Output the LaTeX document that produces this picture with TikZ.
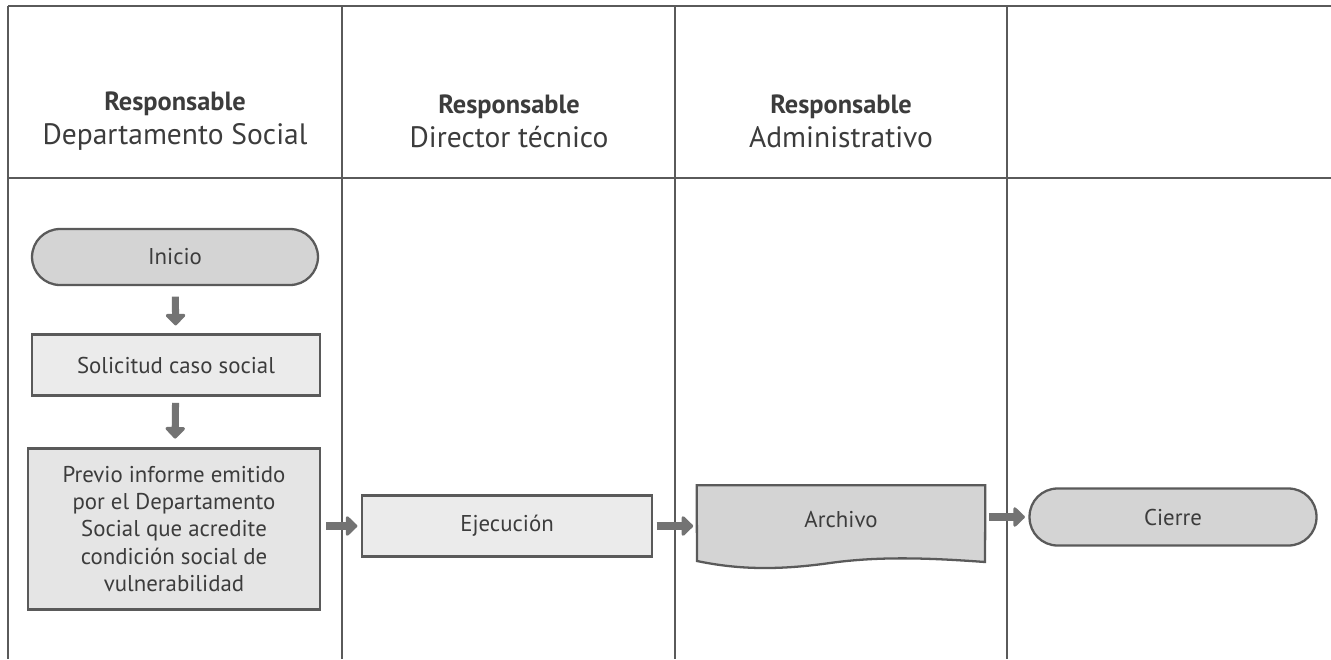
\documentclass[tikz,border=0pt]{standalone}
\usepackage{fontspec}
\setmainfont{PT Sans}
\usetikzlibrary{arrows.meta}
\definecolor{linea}{HTML}{5A5A5A}
\definecolor{texto}{HTML}{3C3C3C}
\definecolor{grisA}{HTML}{D4D4D4}
\definecolor{grisB}{HTML}{EBEBEB}
\definecolor{grisC}{HTML}{E5E5E5}
\begin{document}
\begin{tikzpicture}[x=0.02cm,y=-0.02cm,
  caja/.style={draw=linea,line width=1.3pt,fill=#1,text=texto,align=center,
    font=\fontsize{13}{15.6}\selectfont,inner sep=0pt},
  fin/.style={caja=grisA,rounded corners=0.56cm},
  flecha/.style={draw=linea!85,line width=4pt,-{Triangle[width=13pt,length=7pt,round]}},
  cabecera/.style={text=texto,align=center,font=\fontsize{16.8}{19.5}\selectfont}]
\useasboundingbox (0,0) rectangle (1331,659);
% carriles
\draw[linea,line width=1.1pt] (8,6) -- (1331,6) (8,178) -- (1331,178);
\foreach \x in {8,342,675,1007} \draw[linea,line width=1.1pt] (\x,6) -- (\x,659);
\node[cabecera] (c1) at (175,121) {{\fontsize{15}{19.5}\selectfont\bfseries Responsable}\\Departamento Social};
\node[cabecera] (c2) at (509,121) {{\fontsize{15}{19.5}\selectfont\bfseries Responsable}\\Director técnico};
\node[cabecera] (c3) at (841,121) {{\fontsize{15}{19.5}\selectfont\bfseries Responsable}\\Administrativo};
% pasos
\node[fin,minimum width=5.72cm,minimum height=1.12cm] (inicio) at (175,257) {Inicio};
\node[caja=grisB,minimum width=5.76cm,minimum height=1.22cm] (solicitud) at (176,365) {Solicitud caso social};
\node[caja=grisC,minimum width=5.84cm,minimum height=3.22cm] (previo) at (174,529)
  {Previo informe emitido\\por el Departamento\\Social que acredite\\condición social de\\vulnerabilidad};
\node[caja=grisB,minimum width=5.8cm,minimum height=1.22cm] (ejecucion) at (507,526) {Ejecución};
\node[minimum width=5.76cm,minimum height=1.5cm,inner sep=0pt] (archivo) at (841,523) {};
\fill[grisA] (archivo.north west) -- (archivo.north east) -- (985,562)
  .. controls (930,558) and (880,556) .. (830,563) .. controls (780,570) and (740,570) .. (697,561) -- cycle;
\draw[linea,line width=1.3pt] (archivo.north west) -- (archivo.north east) -- (985,562)
  .. controls (930,558) and (880,556) .. (830,563) .. controls (780,570) and (740,570) .. (697,561) -- cycle;
\node[text=texto,font=\fontsize{13}{15.6}\selectfont] (archivot) at (841,520) {Archivo};
\node[fin,minimum width=5.74cm,minimum height=1.14cm] (cierre) at (1173,517) {Cierre};
% flechas
\draw[flecha,shorten <=6pt,shorten >=4.5pt] (inicio) -- (solicitud);
\draw[flecha,shorten <=3.5pt,shorten >=5pt] (solicitud) -- (previo);
\draw[flecha,shorten <=3pt,shorten >=2pt] (previo.east |- ejecucion) -- (ejecucion);
\draw[flecha,shorten <=2pt,shorten >=2pt] (ejecucion.east) -- (archivo.west |- ejecucion);
\draw[flecha,shorten <=2pt,shorten >=2pt] (archivo.east |- cierre) -- (cierre);
\end{tikzpicture}
\end{document}
